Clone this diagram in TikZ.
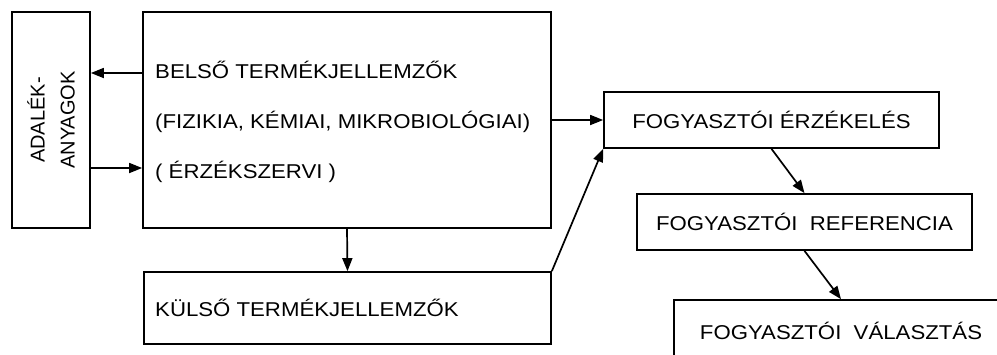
\documentclass[tikz,border=0pt]{standalone}
\usepackage{fontspec}
\setmainfont{Liberation Sans}[FakeStretch=1.11]
\newfontfamily\uprightsans{Liberation Sans}
\usetikzlibrary{arrows.meta}
\begin{document}
\begin{tikzpicture}[x=1pt,y=-1pt,
  box/.style={draw,line width=1.7pt,rectangle,inner sep=0pt},
  txt/.style={inner sep=0pt,font=\fontsize{20}{24}\selectfont},
  arr/.style={line width=1.7pt,-{Triangle[length=13pt,width=10pt]}}]
\useasboundingbox (0,0) rectangle (997,354);
% boxes
\node[box,minimum width=78pt,minimum height=216pt] (adalek) at (51,120) {};
\node[box,minimum width=408pt,minimum height=216pt] (belso) at (347,120) {};
\node[box,minimum width=407pt,minimum height=72pt] (kulso) at (347.5,308) {};
\node[box,minimum width=335pt,minimum height=56pt,txt] (erz) at (771.5,120) {FOGYASZTÓI ÉRZÉKELÉS};
\node[box,minimum width=335pt,minimum height=56pt,txt] (ref) at (804.5,222) {FOGYASZTÓI\ \ REFERENCIA};
\node[box,minimum width=334pt,minimum height=62pt,txt] (val) at (841,331) {FOGYASZTÓI\ \ VÁLASZTÁS};
% texts
\node[txt,rotate=90,align=center,font=\uprightsans\fontsize{20}{30}\selectfont] (adt) at (adalek.center) {ADALÉK-\\ANYAGOK};
\node[txt,anchor=base west] (b1) at (155,78) {BELSŐ TERMÉKJELLEMZŐK};
\node[txt,anchor=base west] (b2) at (155,128) {(FIZIKIA, KÉMIAI, MIKROBIOLÓGIAI)};
\node[txt,anchor=base west] (b3) at (155,178) {( ÉRZÉKSZERVI )};
\node[txt,anchor=base west] (k1) at (155,316) {KÜLSŐ TERMÉKJELLEMZŐK};
% connectors
\coordinate (p1) at (0,73);
\coordinate (p2) at (0,168);
\draw[arr] (belso.west |- p1) -- (adalek.east |- p1);
\draw[arr] (adalek.east |- p2) -- (belso.west |- p2);
\draw[arr] (belso.south) -- (kulso.north);
\draw[arr] (belso.east) -- (erz.west);
\draw[arr] (kulso.north east) -- (erz.south west);
\draw[arr] (erz.south) -- (ref.north);
\draw[arr] (ref.south) -- (val.north);
\end{tikzpicture}
\end{document}
